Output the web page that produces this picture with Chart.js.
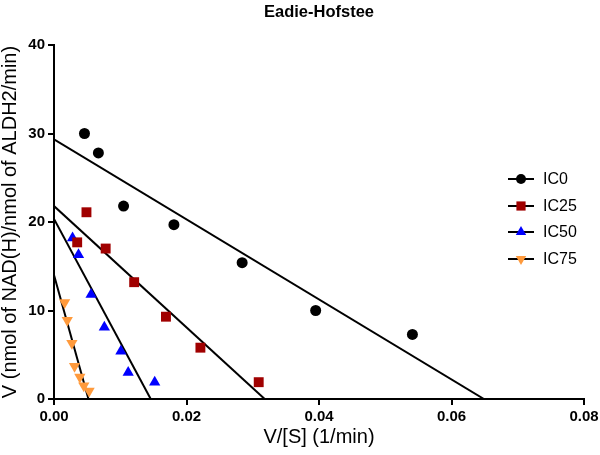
<!DOCTYPE html>
<html>
<head>
<meta charset="utf-8">
<script src="https://cdn.jsdelivr.net/npm/chart.js@4/dist/chart.umd.min.js"></script>
<style>
  html, body { margin: 0; padding: 0; background: #fff; }
  #wrap { width: 600px; height: 455px; }
</style>
</head>
<body>
<div id="wrap"><canvas id="c" width="600" height="455"></canvas></div>
<script>
// ---- data ----
const seriesNames = ["IC0", "IC25", "IC50", "IC75"];
const seriesColors = ["#000000", "#a00000", "#0000ff", "#ff9a3c"];
const seriesStyles = ["circle", "rect", "triangle", "triangle"];
const seriesRotation = [0, 0, 0, 180];

const ic0X = [0.0046, 0.0067, 0.0105, 0.0181, 0.0284, 0.0395, 0.0541];
const ic0Y = [30.0, 27.8, 21.8, 19.7, 15.4, 10.0, 7.3];

const ic25X = [0.0035, 0.0049, 0.0078, 0.0121, 0.0169, 0.0221, 0.0309];
const ic25Y = [17.7, 21.1, 17.0, 13.2, 9.3, 5.8, 1.9];

const ic50X = [0.0028, 0.0037, 0.0056, 0.0076, 0.0101, 0.0112, 0.0152];
const ic50Y = [18.2, 16.3, 11.8, 8.1, 5.4, 3.0, 1.9];

const ic75X = [0.0016, 0.0020, 0.0027, 0.0031, 0.0039, 0.0045, 0.0053];
const ic75Y = [10.9, 8.9, 6.3, 3.7, 2.5, 1.5, 0.9];

// fitted regression lines: x values and y values of their two end points
const fitX = [[0, 0.0649], [0, 0.0318], [0, 0.0146], [0, 0.0052]];
const fitY = [[29.35, 0], [21.8, 0], [20.35, 0], [14.0, 0]];

const xTicks = [0, 0.02, 0.04, 0.06, 0.08];
const yTicks = [0, 10, 20, 30, 40];

const titleText = "Eadie-Hofstee";
const xTitle = "V/[S] (1/min)";
const yTitle = "V (nmol of NAD(H)/nmol of ALDH2/min)";

// ---- build datasets ----
const xs = [ic0X, ic25X, ic50X, ic75X];
const ys = [ic0Y, ic25Y, ic50Y, ic75Y];
const radii = [5.5, 7, 6.5, 6.5];

const datasets = [];
for (let i = 0; i < 4; i++) {
  datasets.push({
    type: 'line',
    label: seriesNames[i] + ' fit',
    data: fitX[i].map((x, k) => ({ x: x, y: fitY[i][k] })),
    borderColor: '#000',
    borderWidth: 2,
    pointRadius: 0,
    fill: false,
    showLine: true,
    order: 2
  });
}
for (let i = 0; i < 4; i++) {
  datasets.push({
    type: 'scatter',
    label: seriesNames[i],
    data: xs[i].map((x, k) => ({ x: x, y: ys[i][k] })),
    backgroundColor: seriesColors[i],
    borderColor: seriesColors[i],
    borderWidth: 0,
    pointStyle: seriesStyles[i],
    pointRotation: seriesRotation[i],
    pointRadius: radii[i],
    order: 1
  });
}

const FONT = "'Liberation Sans', Arial, Helvetica, sans-serif";

const legendPlugin = {
  id: 'customLegend',
  afterDraw(chart) {
    const ctx = chart.ctx;
    const x0 = 508, x1 = 534, tx = 543;
    const ys0 = [179, 206, 232, 259];
    ctx.save();
    for (let i = 0; i < 4; i++) {
      const y = ys0[i];
      ctx.strokeStyle = '#000';
      ctx.lineWidth = 2;
      ctx.beginPath();
      ctx.moveTo(x0, y);
      ctx.lineTo(x1, y);
      ctx.stroke();
      ctx.fillStyle = seriesColors[i];
      ctx.strokeStyle = seriesColors[i];
      ctx.lineWidth = 0;
      Chart.helpers.drawPoint(ctx, {
        pointStyle: seriesStyles[i],
        rotation: seriesRotation[i],
        radius: radii[i] - 0.5,
        borderWidth: 0
      }, (x0 + x1) / 2, y);
      ctx.fillStyle = '#000';
      ctx.font = "16px " + FONT;
      ctx.textBaseline = 'middle';
      ctx.textAlign = 'left';
      ctx.fillText(seriesNames[i], tx, y + 1);
    }
    ctx.restore();
  }
};

new Chart(document.getElementById('c'), {
  data: { datasets: datasets },
  plugins: [legendPlugin],
  options: {
    responsive: false,
    animation: false,
    devicePixelRatio: 1,
    layout: { padding: { left: 0, right: 16, top: 0, bottom: 6 } },
    plugins: {
      legend: { display: false },
      tooltip: { enabled: false },
      title: {
        display: true,
        text: titleText,
        fullSize: false,
        color: '#000',
        font: { family: FONT, size: 16.5, weight: 'bold', lineHeight: 1.2 },
        padding: { top: 3, bottom: 22.2 }
      }
    },
    scales: {
      x: {
        type: 'linear',
        min: 0, max: 0.08,
        afterBuildTicks(scale) { scale.ticks = xTicks.map(v => ({ value: v })); },
        afterFit(scale) { scale.height = 50; scale.paddingLeft = 0; scale.paddingRight = 0; },
        ticks: {
          color: '#000',
          font: { family: FONT, size: 15, weight: 'bold' },
          callback: v => Number(v).toFixed(2),
          padding: 3,
          maxRotation: 0
        },
        grid: { display: true, drawOnChartArea: false, drawTicks: true, tickLength: 6, color: '#000', lineWidth: 2 },
        border: { display: true, color: '#000', width: 2 },
        title: { display: true, text: xTitle, color: '#000', font: { family: FONT, size: 20, lineHeight: 1.2 }, padding: 0 }
      },
      y: {
        type: 'linear',
        min: 0, max: 40,
        afterBuildTicks(scale) { scale.ticks = yTicks.map(v => ({ value: v })); },
        afterFit(scale) { scale.width = 54; scale.paddingTop = 0; scale.paddingBottom = 0; },
        ticks: {
          color: '#000',
          font: { family: FONT, size: 15, weight: 'bold' },
          padding: 3
        },
        grid: { display: true, drawOnChartArea: false, drawTicks: true, tickLength: 6, color: '#000', lineWidth: 2 },
        border: { display: true, color: '#000', width: 2 },
        title: { display: true, text: yTitle, color: '#000', font: { family: FONT, size: 20, lineHeight: 1 }, padding: 0 }
      }
    }
  }
});
</script>
</body>
</html>
